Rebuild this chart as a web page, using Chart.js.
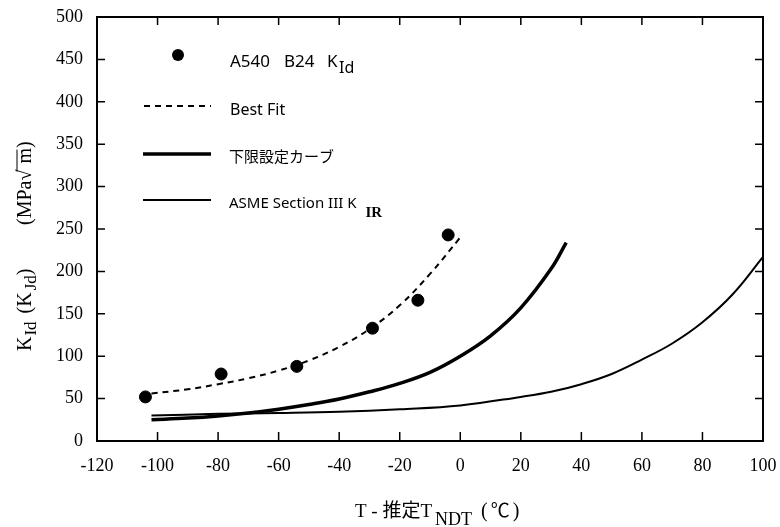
<!DOCTYPE html>
<html>
<head>
<meta charset="utf-8">
<script src="https://cdn.jsdelivr.net/npm/chart.js@4.4.1/dist/chart.umd.min.js"></script>
<style>
  html, body { margin: 0; padding: 0; background: #fff; }
  #wrap { width: 780px; height: 527px; }
</style>
</head>
<body>
<div id="wrap"><canvas id="kChart"></canvas></div>
<script>
// measured points A540 B24 KId
const dataT = [-104, -79, -54, -29, -14, -4];
const dataK = [52, 79, 88, 133, 166, 243];

// best fit (dashed)
const fitT = [-102, -90, -80, -70, -60, -50, -40, -30, -20, -10, 0];
const fitK = [56, 61, 67, 74, 83, 95, 111, 132, 160, 197, 240];

// lower bound curve (thick)
const lowerT = [-102, -90, -80, -70, -60, -50, -40, -30, -20, -10, 0, 10, 20, 30, 35];
const lowerK = [25, 27, 29.5, 33, 37.5, 43, 49.5, 58, 68, 81, 100, 124, 157, 203, 234];

// ASME Section III KIR (thin)
const asmeT = [-102, -80, -60, -40, -20, 0, 20, 30, 40, 50, 60, 70, 80, 90, 100];
const asmeK = [30, 32, 33, 34.5, 37.5, 42, 52, 58, 67, 79, 96, 115, 140, 173, 217];

const xTicks = [-120, -100, -80, -60, -40, -20, 0, 20, 40, 60, 80, 100];
const yTicks = [0, 50, 100, 150, 200, 250, 300, 350, 400, 450, 500];

const serif = '"Liberation Serif", "Noto Sans CJK JP", serif';
const sans = '"Noto Sans", "Noto Sans CJK JP", sans-serif';

function pts(xs, ys) {
  return xs.map((x, i) => ({ x: x, y: ys[i] }));
}

// frame with inward ticks on all four sides
const framePlugin = {
  id: 'frame',
  afterDatasetsDraw(chart) {
    const { ctx, chartArea: a, scales } = chart;
    ctx.save();
    ctx.strokeStyle = '#000';
    ctx.lineWidth = 2;
    ctx.strokeRect(a.left, a.top, a.right - a.left, a.bottom - a.top);
    ctx.lineWidth = 1.5;
    ctx.beginPath();
    xTicks.forEach(v => {
      const px = scales.x.getPixelForValue(v);
      ctx.moveTo(px, a.bottom); ctx.lineTo(px, a.bottom - 9);
      ctx.moveTo(px, a.top); ctx.lineTo(px, a.top + 8);
    });
    yTicks.forEach(v => {
      const py = scales.y.getPixelForValue(v);
      ctx.moveTo(a.left, py); ctx.lineTo(a.left + 8, py);
      ctx.moveTo(a.right, py); ctx.lineTo(a.right - 8, py);
    });
    ctx.stroke();
    ctx.restore();
  }
};

// draw a run of [text, font, dy, gapAfter] pieces left to right
function drawRun(ctx, x, y, parts) {
  parts.forEach(p => {
    ctx.font = p[1];
    ctx.fillText(p[0], x, y + (p[2] || 0));
    x += ctx.measureText(p[0]).width + (p[3] || 0);
  });
  return x;
}

const textPlugin = {
  id: 'texts',
  afterDraw(chart) {
    const ctx = chart.ctx;
    ctx.save();
    ctx.fillStyle = '#000';
    ctx.strokeStyle = '#000';
    ctx.textBaseline = 'alphabetic';
    ctx.textAlign = 'left';

    // legend
    ctx.beginPath();
    ctx.arc(178, 55, 6, 0, Math.PI * 2);
    ctx.fill();
    ctx.font = '17px ' + sans;
    ctx.fillText('A540', 230, 67);
    ctx.fillText('B24', 284, 67);
    ctx.fillText('K', 327, 67);
    ctx.font = '16px ' + sans;
    ctx.fillText('Id', 339, 73);

    ctx.lineWidth = 2;
    ctx.setLineDash([6, 5]);
    ctx.beginPath(); ctx.moveTo(144, 106); ctx.lineTo(211, 106); ctx.stroke();
    ctx.setLineDash([]);
    drawRun(ctx, 230, 115, [['Best Fit', '16px ' + sans]]);

    ctx.lineWidth = 3.5;
    ctx.beginPath(); ctx.moveTo(143, 154); ctx.lineTo(211, 154); ctx.stroke();
    drawRun(ctx, 229, 162, [['下限設定カーブ', '15px "Noto Sans CJK JP"']]);

    ctx.lineWidth = 2;
    ctx.beginPath(); ctx.moveTo(143, 200); ctx.lineTo(211, 200); ctx.stroke();
    drawRun(ctx, 229, 208, [
      ['ASME Section III K', '15px ' + sans, 0, 9],
      ['IR', 'bold 15px ' + serif, 9]
    ]);

    // x axis title
    drawRun(ctx, 355, 517, [
      ['T - 推定T', '19px ' + serif, 0, 3],
      ['NDT', '18px ' + serif, 8, 9],
      ['(', '20px ' + serif, 0, 3],
      ['℃', '19px ' + serif, 0, 3],
      [')', '20px ' + serif]
    ]);

    // y axis title (rotated)
    ctx.translate(31, 351);
    ctx.rotate(-Math.PI / 2);
    drawRun(ctx, 0, 0, [
      ['K', '20px ' + serif, 0, 1],
      ['Id', '17px ' + serif, 5, 8],
      ['(K', '20px ' + serif, 0, 2],
      ['Jd', '17px ' + serif, 5],
      [')', '20px ' + serif]
    ]);
    const endX = drawRun(ctx, 126, 0, [
      ['(MPa√', '20px ' + serif, 0, 6]
    ]);
    ctx.font = '20px ' + serif;
    ctx.fillText('m)', endX, 0);
    ctx.lineWidth = 1;
    ctx.beginPath(); ctx.moveTo(endX - 8, -14); ctx.lineTo(endX + 14, -14); ctx.stroke();
    ctx.restore();
  }
};

const ctx = document.getElementById('kChart').getContext('2d');
const kChart = new Chart(ctx, {
  type: 'scatter',
  data: {
    datasets: [
      {
        label: 'A540 B24 KId',
        data: pts(dataT, dataK),
        showLine: false,
        pointRadius: 6,
        pointBackgroundColor: '#000',
        pointBorderColor: '#000'
      },
      {
        label: 'Best Fit',
        data: pts(fitT, fitK),
        showLine: true,
        borderColor: '#000',
        borderWidth: 2,
        borderDash: [6, 5],
        pointRadius: 0,
        tension: 0.4
      },
      {
        label: '下限設定カーブ',
        data: pts(lowerT, lowerK),
        showLine: true,
        borderColor: '#000',
        borderWidth: 3.5,
        pointRadius: 0,
        tension: 0.4
      },
      {
        label: 'ASME Section III KIR',
        data: pts(asmeT, asmeK),
        showLine: true,
        borderColor: '#000',
        borderWidth: 2,
        pointRadius: 0,
        tension: 0.4
      }
    ]
  },
  options: {
    responsive: true,
    maintainAspectRatio: false,
    animation: false,
    layout: { padding: { top: 17, right: 17, left: 0, bottom: 0 } },
    plugins: {
      legend: { display: false },
      tooltip: { enabled: false }
    },
    scales: {
      x: {
        type: 'linear',
        min: -120,
        max: 100,
        grid: { display: false, drawTicks: false },
        border: { display: false },
        ticks: {
          stepSize: 20,
          color: '#000',
          padding: 14,
          maxRotation: 0,
          font: { family: serif, size: 18 }
        },
        afterFit(scale) {
          scale.height = 86;
          scale.paddingLeft = 0;
          scale.paddingRight = 0;
        }
      },
      y: {
        min: 0,
        max: 500,
        grid: { display: false, drawTicks: false },
        border: { display: false },
        ticks: {
          stepSize: 50,
          color: '#000',
          padding: 14,
          font: { family: serif, size: 18 }
        },
        afterFit(scale) {
          scale.width = 97;
          scale.paddingTop = 0;
          scale.paddingBottom = 0;
        }
      }
    }
  },
  plugins: [framePlugin, textPlugin]
});
</script>
</body>
</html>
